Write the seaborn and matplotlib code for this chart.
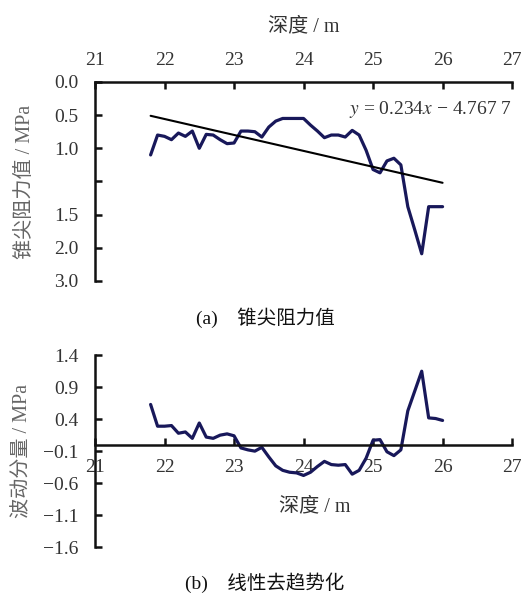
import matplotlib
matplotlib.use("Agg")
import matplotlib.pyplot as plt
import seaborn as sns
import numpy as np

# depth (m), shared by both panels
depth = [21.8, 21.9, 22.0, 22.1, 22.2, 22.3, 22.4, 22.5, 22.6, 22.7, 22.8,
         22.9, 23.0, 23.1, 23.2, 23.3, 23.4, 23.5, 23.6, 23.7, 23.8, 23.9,
         24.0, 24.1, 24.2, 24.3, 24.4, 24.5, 24.6, 24.7, 24.8, 24.9, 25.0,
         25.1, 25.2, 25.3, 25.4, 25.5, 25.6, 25.7, 25.8, 25.9, 26.0]

# (a) cone tip resistance, in axis units
resistance = [1.10, 0.80, 0.82, 0.87, 0.77, 0.82, 0.74, 1.00, 0.79, 0.80, 0.87,
              0.93, 0.92, 0.74, 0.74, 0.75, 0.83, 0.68, 0.59, 0.55, 0.55, 0.55,
              0.55, 0.65, 0.74, 0.84, 0.80, 0.80, 0.83, 0.73, 0.80, 1.03, 1.32,
              1.37, 1.19, 1.15, 1.25, 1.88, 2.23, 2.59, 1.88, 1.88, 1.88]
trend_x = [21.8, 26.0]
trend_y = [0.51, 1.52]
res_ticks = [0.0, 0.5, 1.0, 1.5, 2.0, 2.5, 3.0]
res_labels = ['0.0', '0.5', '1.0', '', '1.5', '2.0', '3.0']

# (b) linear detrended fluctuation
fluct = [0.63, 0.29, 0.29, 0.30, 0.18, 0.20, 0.10, 0.34, 0.12, 0.10, 0.15,
         0.17, 0.14, -0.05, -0.08, -0.10, -0.04, -0.19, -0.33, -0.40, -0.43, -0.44,
         -0.48, -0.43, -0.34, -0.26, -0.31, -0.32, -0.31, -0.46, -0.40, -0.21, 0.07,
         0.08, -0.11, -0.17, -0.08, 0.53, 0.84, 1.15, 0.42, 0.41, 0.38]
fl_ticks = [1.4, 0.9, 0.4, -0.1, -0.6, -1.1, -1.6]
fl_labels = ['1.4', '0.9', '0.4', '\u22120.1', '\u22120.6', '\u22121.1', '\u22121.6']

x_ticks = [21, 22, 23, 24, 25, 26, 27]

sns.set_style('ticks')
plt.rcParams['font.family'] = ['Liberation Serif', 'Noto Sans CJK SC', 'DejaVu Sans']
plt.rcParams['mathtext.fontset'] = 'stix'

line_col = '#18185a'
txt_col = '#333333'
lab_col = '#666666'
mix = ['Liberation Serif', 'Noto Sans CJK SC']
tick_fs = 14
lab_fs = 14.5

fig = plt.figure(figsize=(5.22, 5.94), dpi=100)
ax1 = fig.add_axes([0.182, 0.527, 0.799, 0.335])
ax2 = fig.add_axes([0.182, 0.079, 0.799, 0.323])

# ---- panel (a)
sns.lineplot(x=depth, y=resistance, ax=ax1, color=line_col, linewidth=2.3, sort=False)
sns.lineplot(x=trend_x, y=trend_y, ax=ax1, color='black', linewidth=1.5, sort=False)
ax1.set_xlim(21, 27)
ax1.set_ylim(3.0, 0.0)
ax1.xaxis.set_ticks_position('top')
ax1.xaxis.set_label_position('top')
ax1.set_xticks(x_ticks)
ax1.set_yticks(res_ticks)
ax1.set_yticklabels(res_labels)
for s in ['bottom', 'right']:
    ax1.spines[s].set_visible(False)
for s in ['top', 'left']:
    ax1.spines[s].set_linewidth(1.8)
    ax1.spines[s].set_color('#111111')
ax1.tick_params(direction='in', length=5, width=1.8, labelsize=tick_fs,
                colors='#111111', labelcolor=txt_col)
ax1.tick_params(axis='x', pad=9)
ax1.tick_params(axis='y', pad=12)
ax1.set_xlabel('深度 / m', fontsize=lab_fs, color=txt_col, family=mix)
ax1.xaxis.set_label_coords(0.5, 1.255)
ax1.set_ylabel('锥尖阻力值 / MPa', fontsize=lab_fs, color=lab_col, family=mix)
ax1.yaxis.set_label_coords(-0.145, 0.5)
ax1.text(27, 0.42, '$y$ = 0.234$x$ \u2212 4.767 7',
         ha='right', va='center', fontsize=14, color=txt_col)

# ---- panel (b)
sns.lineplot(x=depth, y=fluct, ax=ax2, color=line_col, linewidth=2.3, sort=False)
ax2.set_xlim(21, 27)
ax2.set_ylim(-1.6, 1.4)
ax2.set_xticks(x_ticks)
ax2.set_yticks(fl_ticks)
ax2.set_yticklabels(fl_labels)
ax2.spines['bottom'].set_position(('data', 0))
for s in ['top', 'right']:
    ax2.spines[s].set_visible(False)
for s in ['bottom', 'left']:
    ax2.spines[s].set_linewidth(1.8)
    ax2.spines[s].set_color('#111111')
ax2.tick_params(direction='in', length=5, width=1.8, labelsize=tick_fs,
                colors='#111111', labelcolor=txt_col)
ax2.tick_params(axis='x', pad=10)
ax2.tick_params(axis='y', pad=12)
ax2.set_xlabel('深度 / m', fontsize=lab_fs, color=txt_col, family=mix)
ax2.xaxis.set_label_coords(0.528, 0.26)
ax2.set_ylabel('波动分量 / MPa', fontsize=lab_fs, color=lab_col, family=mix)
ax2.yaxis.set_label_coords(-0.15, 0.5)

# captions
fig.text(265 / 522, 1 - 318 / 594, '(a)    锥尖阻力值', ha='center', va='center',
         fontsize=14, color='#111111', family=mix, fontweight='medium')
fig.text(265 / 522, 1 - 583 / 594, '(b)    线性去趋势化', ha='center', va='center',
         fontsize=14, color='#111111', family=mix, fontweight='medium')

fig.savefig('out.png', dpi=100)
